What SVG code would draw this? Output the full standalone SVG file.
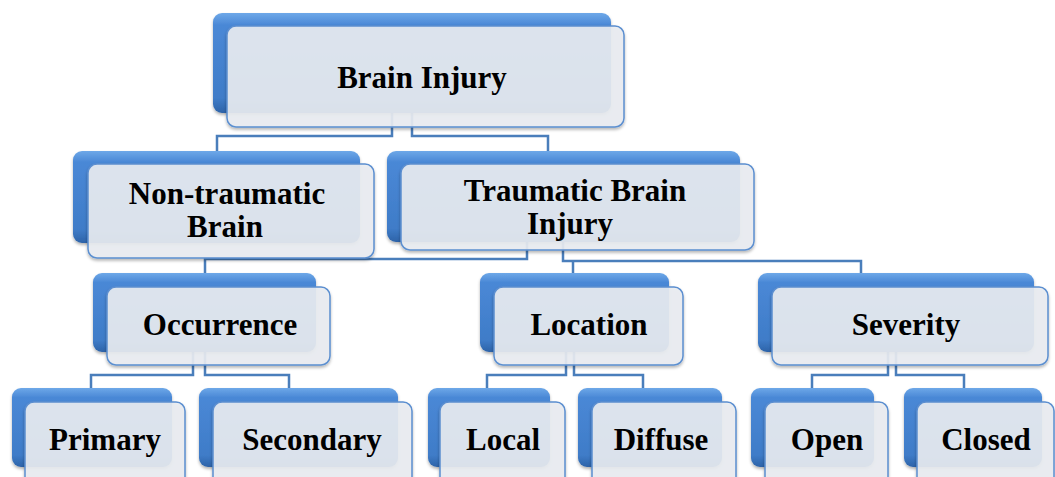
<svg xmlns="http://www.w3.org/2000/svg" width="1055" height="477" viewBox="0 0 1055 477">
<defs>
<linearGradient id="blueG" x1="0" y1="0" x2="0" y2="1">
<stop offset="0" stop-color="#6ea8e8"/>
<stop offset="0.12" stop-color="#4a88d6"/>
<stop offset="0.85" stop-color="#3f7cc8"/>
<stop offset="1" stop-color="#2d63a8"/>
</linearGradient>
<filter id="sh" x="-10%" y="-10%" width="120%" height="130%">
<feDropShadow dx="0" dy="2" stdDeviation="1.5" flood-color="#000" flood-opacity="0.3"/>
</filter>
<style>
.back{fill:url(#blueG);filter:url(#sh);}
.front{fill:#eaedf2;fill-opacity:0.9;stroke:#5c8fd0;stroke-width:1.5;filter:url(#sh);}
.lbl{font-family:'Liberation Serif','DejaVu Serif',serif;font-weight:700;font-size:31px;fill:#000;text-anchor:middle;}
.con{fill:none;stroke:#4a7ebb;stroke-width:2.5;}
</style>
</defs>
<g id="connectors">
<path class="con" d="M392,113 V136 H217 V151"/>
<path class="con" d="M412,113 V136 H548 V151"/>
<path class="con" d="M527,240 V259 H205 V273"/>
<path class="con" d="M563,240 V261 H861 V273"/>
<path class="con" d="M573,261 V273"/>
<path class="con" d="M193,352 V375 H91 V388"/>
<path class="con" d="M205,352 V375 H289 V388"/>
<path class="con" d="M566,352 V375 H487 V388"/>
<path class="con" d="M574,352 V375 H643 V388"/>
<path class="con" d="M888,352 V375 H812 V388"/>
<path class="con" d="M896,352 V375 H964 V388"/>
</g>
<g id="brain-injury">
<rect class="back" x="213" y="13" width="398" height="100" rx="9"/>
<rect class="front" x="227" y="26" width="397" height="101" rx="9"/>
<text class="lbl" x="422" y="88">Brain Injury</text>
</g>
<g id="non-traumatic">
<rect class="back" x="73" y="151" width="287" height="92" rx="9"/>
<rect class="front" x="88" y="164" width="286" height="94" rx="9"/>
<text class="lbl" x="227" y="204">Non-traumatic</text>
<text class="lbl" x="225" y="237">Brain</text>
</g>
<g id="traumatic">
<rect class="back" x="387" y="151" width="353" height="91" rx="9"/>
<rect class="front" x="401" y="164" width="353" height="86" rx="9"/>
<text class="lbl" x="575" y="201">Traumatic Brain</text>
<text class="lbl" x="570" y="234">Injury</text>
</g>
<g id="occurrence">
<rect class="back" x="93" y="273" width="223" height="79" rx="9"/>
<rect class="front" x="107" y="287" width="223" height="78" rx="9"/>
<text class="lbl" x="220" y="335">Occurrence</text>
</g>
<g id="location">
<rect class="back" x="480" y="273" width="189" height="79" rx="9"/>
<rect class="front" x="494" y="287" width="189" height="78" rx="9"/>
<text class="lbl" x="589" y="335">Location</text>
</g>
<g id="severity">
<rect class="back" x="758" y="273" width="276" height="79" rx="9"/>
<rect class="front" x="772" y="287" width="276" height="78" rx="9"/>
<text class="lbl" x="906" y="335">Severity</text>
</g>
<g id="primary">
<rect class="back" x="12" y="388" width="160" height="79" rx="9"/>
<rect class="front" x="25" y="402" width="160" height="90" rx="9"/>
<text class="lbl" x="105" y="450">Primary</text>
</g>
<g id="secondary">
<rect class="back" x="199" y="388" width="199" height="79" rx="9"/>
<rect class="front" x="213" y="402" width="199" height="90" rx="9"/>
<text class="lbl" x="312" y="450">Secondary</text>
</g>
<g id="local">
<rect class="back" x="428" y="388" width="122" height="79" rx="9"/>
<rect class="front" x="440" y="402" width="125" height="90" rx="9"/>
<text class="lbl" x="503" y="450">Local</text>
</g>
<g id="diffuse">
<rect class="back" x="578" y="388" width="144" height="79" rx="9"/>
<rect class="front" x="592" y="402" width="144" height="90" rx="9"/>
<text class="lbl" x="661" y="450">Diffuse</text>
</g>
<g id="open">
<rect class="back" x="751" y="388" width="123" height="79" rx="9"/>
<rect class="front" x="765" y="402" width="123" height="90" rx="9"/>
<text class="lbl" x="827" y="450">Open</text>
</g>
<g id="closed">
<rect class="back" x="904" y="388" width="138" height="79" rx="9"/>
<rect class="front" x="917" y="402" width="137" height="90" rx="9"/>
<text class="lbl" x="986" y="450">Closed</text>
</g>
</svg>
